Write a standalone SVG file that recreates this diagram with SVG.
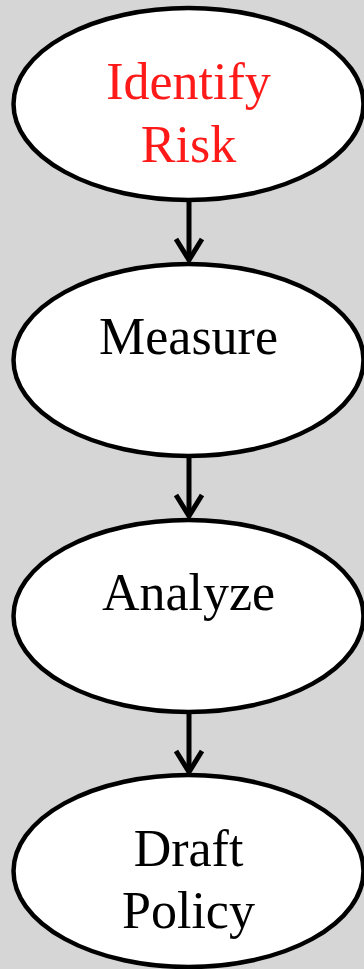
<svg xmlns="http://www.w3.org/2000/svg" width="364" height="969" viewBox="0 0 364 969">
<style>
.node ellipse{fill:#fff;stroke:#000;stroke-width:4.5}
.node text{font-family:"Liberation Serif","Times New Roman",serif;font-size:52px;text-anchor:middle;fill:#000}
.node text.red{fill:#ff1a1a}
.edge{fill:none;stroke:#000;stroke-width:5;stroke-linejoin:miter}
</style>
<rect width="364" height="969" fill="#d6d6d6"/>
<g id="connectors">
<g class="edge"><line x1="189" y1="200" x2="189" y2="260"/><polyline points="176,239 189,260 202,239"/></g>
<g class="edge"><line x1="189" y1="456" x2="189" y2="516"/><polyline points="176,495 189,516 202,495"/></g>
<g class="edge"><line x1="189" y1="712" x2="189" y2="772"/><polyline points="176,751 189,772 202,751"/></g>
</g>
<g id="identify" class="node"><ellipse cx="188.5" cy="104" rx="175" ry="96"/><text class="red" x="188.5" y="99">Identify</text><text class="red" x="188.5" y="162">Risk</text></g>
<g id="measure" class="node"><ellipse cx="188.5" cy="360" rx="175" ry="96"/><text x="188.5" y="354">Measure</text></g>
<g id="analyze" class="node"><ellipse cx="188.5" cy="616" rx="175" ry="96"/><text x="188.5" y="610">Analyze</text></g>
<g id="draft" class="node"><ellipse cx="188.5" cy="871" rx="175" ry="96"/><text x="188.5" y="866">Draft</text><text x="188.5" y="928">Policy</text></g>
</svg>
